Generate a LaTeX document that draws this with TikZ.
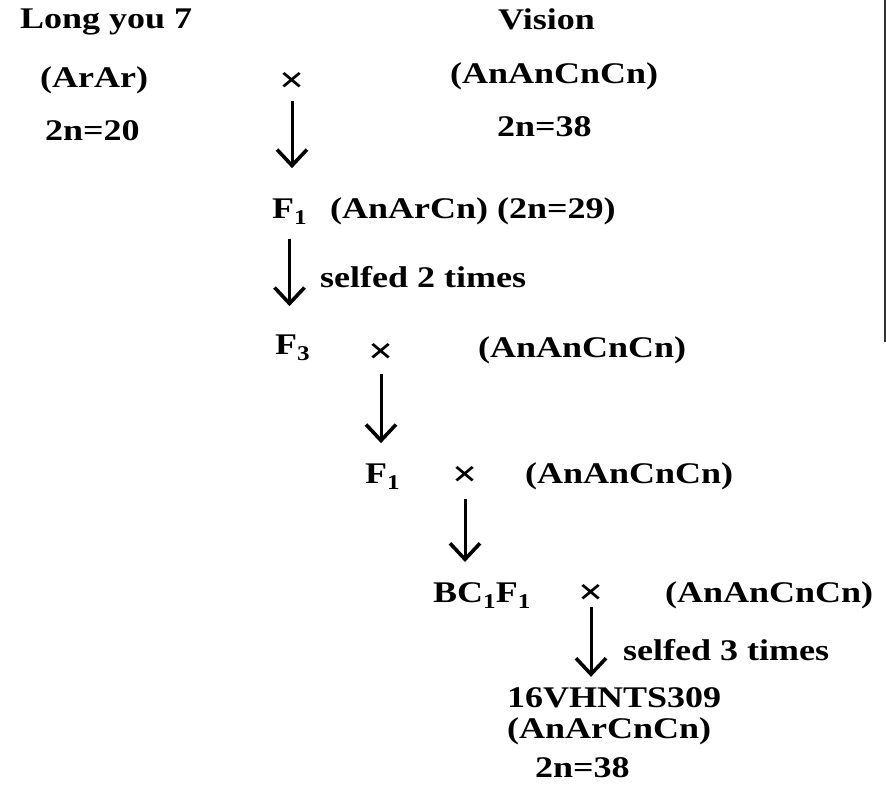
\documentclass[tikz,border=0pt]{standalone}
\usepackage{fontspec}
\setmainfont{Liberation Serif}[FakeStretch=1.2]
\usetikzlibrary{arrows.meta}
\newcommand{\lowsub}[1]{\raisebox{-0.22em}{\fontsize{21}{21}\selectfont #1}}
\begin{document}
\begin{tikzpicture}[x=1pt,y=-1pt,
    lbl/.style={inner sep=0pt,anchor=base west,font=\fontsize{30}{34}\selectfont\bfseries},
    crs/.style={inner sep=0pt,font=\fontsize{37}{40}\selectfont\bfseries},
    arr/.style={line width=3pt,-{Straight Barb[length=16pt,width=30pt,line width=3.6pt]}}]
    \useasboundingbox (0,0) rectangle (886,792);
    % parents
    \node[lbl] (ly7) at(20,29) {Long you 7};
    \node[lbl] (arar) at(40,88) {(ArAr)};
    \node[lbl] (pn20) at(45,140) {2n=20};
    \node[lbl] (vis) at(498,30) {Vision};
    \node[lbl] (ancn1) at(450,83) {(AnAnCnCn)};
    \node[lbl] (pn38a) at(497,136) {2n=38};
    \node[crs] (x1) at(292,82) {×};
    % F1 and selfing
    \node[lbl] (f1a) at(272,218) {F\lowsub{1}};
    \node[lbl] (gen1) at(330,218) {(AnArCn) (2n=29)};
    \node[lbl] (self2) at(320,287) {selfed 2 times};
    \node[lbl] (f3) at(275,354) {F\lowsub{3}};
    \node[crs] (x2) at(381,353) {×};
    \node[lbl] (ancn2) at(478,357) {(AnAnCnCn)};
    % backcross
    \node[lbl] (f1b) at(365,483) {F\lowsub{1}};
    \node[crs] (x3) at(465,476) {×};
    \node[lbl] (ancn3) at(525,483) {(AnAnCnCn)};
    \node[lbl] (bc) at(433,602) {BC\lowsub{1}F\lowsub{1}};
    \node[crs] (x4) at(591,594) {×};
    \node[lbl] (ancn4) at(665,602) {(AnAnCnCn)};
    \node[lbl] (self3) at(623,660) {selfed 3 times};
    % line
    \node[lbl] (l16) at(507,707) {16VHNTS309};
    \node[lbl] (genf) at(507,738) {(AnArCnCn)};
    \node[lbl] (pn38b) at(535,777) {2n=38};
    \draw[arr,shorten <=9pt,shorten >=30pt] (x1) -- (x1 |- f1a.north);
    \draw[arr,shorten <=14pt,shorten >=28pt] (f1a.south) -- (f1a.south |- f3.north);
    \draw[arr,shorten <=11pt,shorten >=20pt] (x2) -- (x2 |- f1b.north);
    \draw[arr,shorten <=13pt,shorten >=20pt] (x3) -- (x3 |- bc.north);
    \draw[arr,shorten <=3pt,shorten >=10pt] (x4) -- (x4 |- l16.north);
    \draw[line width=2pt,black!80] (885,0) -- (885,342);
\end{tikzpicture}
\end{document}
